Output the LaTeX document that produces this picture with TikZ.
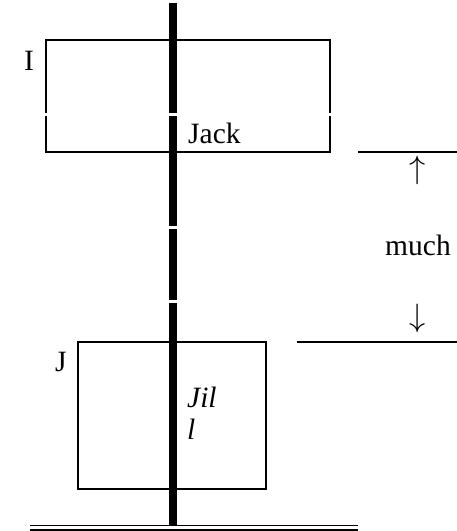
\documentclass[tikz,border=0pt]{standalone}
\usepackage{fontspec}
\setmainfont{Liberation Serif}
\begin{document}
\begin{tikzpicture}[x=1pt,y=-1pt,
  lbl/.style={font=\fontsize{29.5}{33}\selectfont, inner sep=0pt, anchor=base west},
  arr/.style={font=\fontsize{24.88}{30}\selectfont, inner sep=0pt},
  boxline/.style={line width=1.8pt},
  gap/.style={fill=white, draw=none}]
\useasboundingbox (0,0) rectangle (457,531);
% upper box I
\draw[boxline] (46,40) rectangle (330,152);
\fill[gap] (40,112.5) rectangle (336,115.5);
% lower box J
\draw[boxline] (78,342) rectangle (266,489);
% pole
\draw[line width=8pt] (173,3) -- (173,525);
\fill[gap] (160,112.5) rectangle (186,115.5);
\fill[gap] (160,226) rectangle (186,229);
\fill[gap] (160,300) rectangle (186,303);
% right level lines
\coordinate (t1) at (358,152);
\coordinate (t2) at (457,152);
\coordinate (b1) at (297,342);
\coordinate (b2) at (457,342);
\draw[boxline] (t1) -- (t2);
\draw[boxline] (b1) -- (b2);
% ground double line
\coordinate (g1) at (30,525.5);
\coordinate (g2) at (358,525.5);
\coordinate (g3) at (30,530);
\coordinate (g4) at (358,530);
\draw[line width=1.6pt] (g1) -- (g2);
\draw[line width=1.6pt] (g3) -- (g4);
% labels
\node[lbl] (I) at (24,70) {I};
\node[lbl] (J) at (55,371) {J};
\node[lbl] (jack) at (188,143) {Jack};
\node[lbl] (much) at (385,255) {much};
\node[lbl] (jil1) at (187,407) {\itshape Jil};
\node[lbl] (jil2) at (187,439) {\itshape l};
\node[arr] (up) at (418,170) {\scalebox{1.3}{$\uparrow$}};
\node[arr] (down) at (418,318) {\scalebox{1.3}{$\downarrow$}};
\end{tikzpicture}
\end{document}
